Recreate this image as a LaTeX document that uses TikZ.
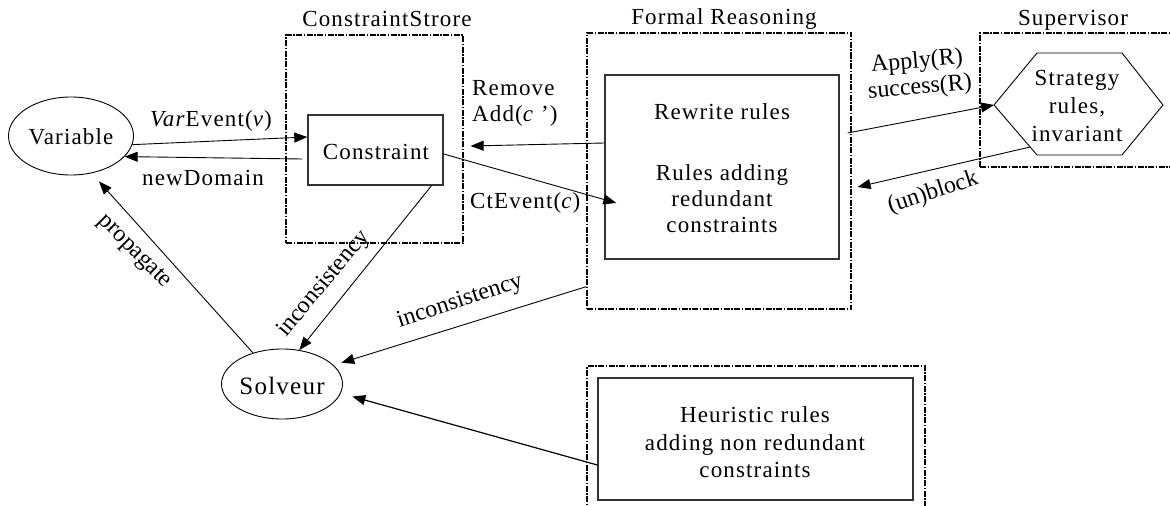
\documentclass[tikz,border=0pt]{standalone}
\usepackage{fontspec}
\setmainfont{Liberation Serif}[LetterSpace=5]
\newfontfamily\plainserif{Liberation Serif}
\usetikzlibrary{arrows.meta,shapes.geometric,calc}
\begin{document}
\begin{tikzpicture}[x=1pt,y=-1pt,
  lbl/.style={font=\fontsize{23}{26}\selectfont, inner sep=0pt, anchor=base},
  lblw/.style={lbl, anchor=base west},
  rlbl/.style={font=\plainserif\fontsize{24}{28}\selectfont, inner sep=0pt, anchor=center},
  bigl/.style={font=\fontsize{25}{28}\selectfont, inner sep=0pt},
  dbox/.style={draw, line width=1.2pt, dash pattern=on 6pt off 1.5pt on 1.5pt off 1.5pt, inner sep=0pt},
  ibox/.style={draw=black!80, line width=1.4pt, inner sep=0pt},
  ell/.style={draw, ellipse, line width=0.9pt, inner sep=0pt},
  arr/.style={line width=0.9pt, -{Triangle[length=13pt,width=10pt]}}
]
\useasboundingbox (0,0) rectangle (1170,506);

% group boxes
\node[dbox, minimum width=177pt, minimum height=208pt] (csbox) at (374.5,139) {};
\node[dbox, minimum width=264pt, minimum height=276pt] (frbox) at (719,171) {};
\node[dbox, minimum width=205pt, minimum height=134pt] (supbox) at (1082.5,100) {};
\node[dbox, minimum width=338pt, minimum height=160pt] (heurbox) at (756,446) {};

% titles
\node[lbl] (cstitle) at (387,27) {ConstraintStrore};
\node[lbl] (frtitle) at (724,24) {Formal Reasoning};
\node[lbl] (suptitle) at (1073,25) {Supervisor};

% Variable
\node[ell, minimum width=125pt, minimum height=78pt] (var) at (71,136) {};
\node[lbl] (vartext) at (71,144) {Variable};

% Constraint
\node[ibox, minimum width=135pt, minimum height=70pt] (cons) at (375.5,150) {};
\node[lbl] (constext) at (376,159) {Constraint};

% Formal reasoning inner box
\node[ibox, minimum width=234pt, minimum height=184pt] (frin) at (722,167) {};
\node[lbl] (fr1) at (722,119) {Rewrite rules};
\node[lbl] (fr2) at (722,180) {Rules adding};
\node[lbl] (fr3) at (722,206) {redundant};
\node[lbl] (fr4) at (722,232) {constraints};

% Supervisor hexagon
\coordinate (hexL) at (994,105);
\coordinate (hexTL) at (1037,53);
\coordinate (hexTR) at (1122,53);
\coordinate (hexR) at (1163,105);
\coordinate (hexBR) at (1122,155);
\coordinate (hexBL) at (1037,155);
\draw[line width=0.9pt] (hexL) -- (hexTL) -- (hexTR) -- (hexR) -- (hexBR) -- (hexBL) -- cycle;
\coordinate (hexB) at ($(hexL)!0.84!(hexBL)$);
\node[lbl] (st1) at (1077,85) {Strategy};
\node[lbl] (st2) at (1077,113) {rules,};
\node[lbl] (st3) at (1077,141) {invariant};

% Solveur
\node[ell, minimum width=121pt, minimum height=70pt] (solv) at (282,384) {};
\node[bigl, anchor=base] (solvtext) at (282,394) {Solveur};

% Heuristic box
\node[ibox, minimum width=315pt, minimum height=122pt] (heurin) at (755.5,439) {};
\node[lbl] (h1) at (755,422) {Heuristic rules};
\node[lbl] (h2) at (755,450) {adding non redundant};
\node[lbl] (h3) at (755,477) {constraints};

% connectors
\draw[arr] (var.-8) -- ([yshift=13pt]cons.west);
\node[lbl] (lvarev) at (211,126) {\textit{Var}Event(\textit{v})};
\draw[arr] ([xshift=-5pt,yshift=-9pt]cons.west) -- (var.-21);
\node[lbl] (lnewdom) at (203,185) {newDomain};

\draw[arr, shorten >=11pt] (solv.133) -- (var.-61);
\node[rlbl, rotate=-45] (lprop) at (134,252) {propagate};

\draw[arr] ([xshift=56pt]cons.south) -- (solv.63);
\node[rlbl, rotate=50] (linc1) at (324,284) {inconsistency};

\draw[arr] ([yshift=-4pt]cons.east) -- ([xshift=12pt,yshift=-36pt]frin.west);
\node[lblw] (lctev) at (470,208) {CtEvent(\textit{c})};

\draw[arr] ([yshift=24pt]frin.west) -- ([xshift=7pt,yshift=-7pt]csbox.east);
\node[lblw] (lremove) at (472,95) {Remove};
\node[lblw] (ladd) at (472,121) {Add(\textit{c} ’)};

\draw[arr] ([xshift=-4pt,yshift=38pt]frbox.east) -- (hexL);
\node[rlbl, rotate=5] (lapply) at (917,62) {Apply(R)};
\node[rlbl, rotate=5] (lsucc) at (920,88) {success(R)};

\draw[arr] (hexB) -- ([xshift=6pt,yshift=-16pt]frbox.east);
\node[rlbl, rotate=18] (lunblock) at (933,193) {(un)block};

\draw[arr, shorten >=8pt] ([yshift=23pt]frbox.south west) -- (solv.20);
\node[rlbl, rotate=18] (linc2) at (460,302) {inconsistency};

\draw[arr, line width=1.2pt, shorten >=12pt] ([yshift=-26pt]heurin.west) -- (solv.-9);
\end{tikzpicture}
\end{document}
